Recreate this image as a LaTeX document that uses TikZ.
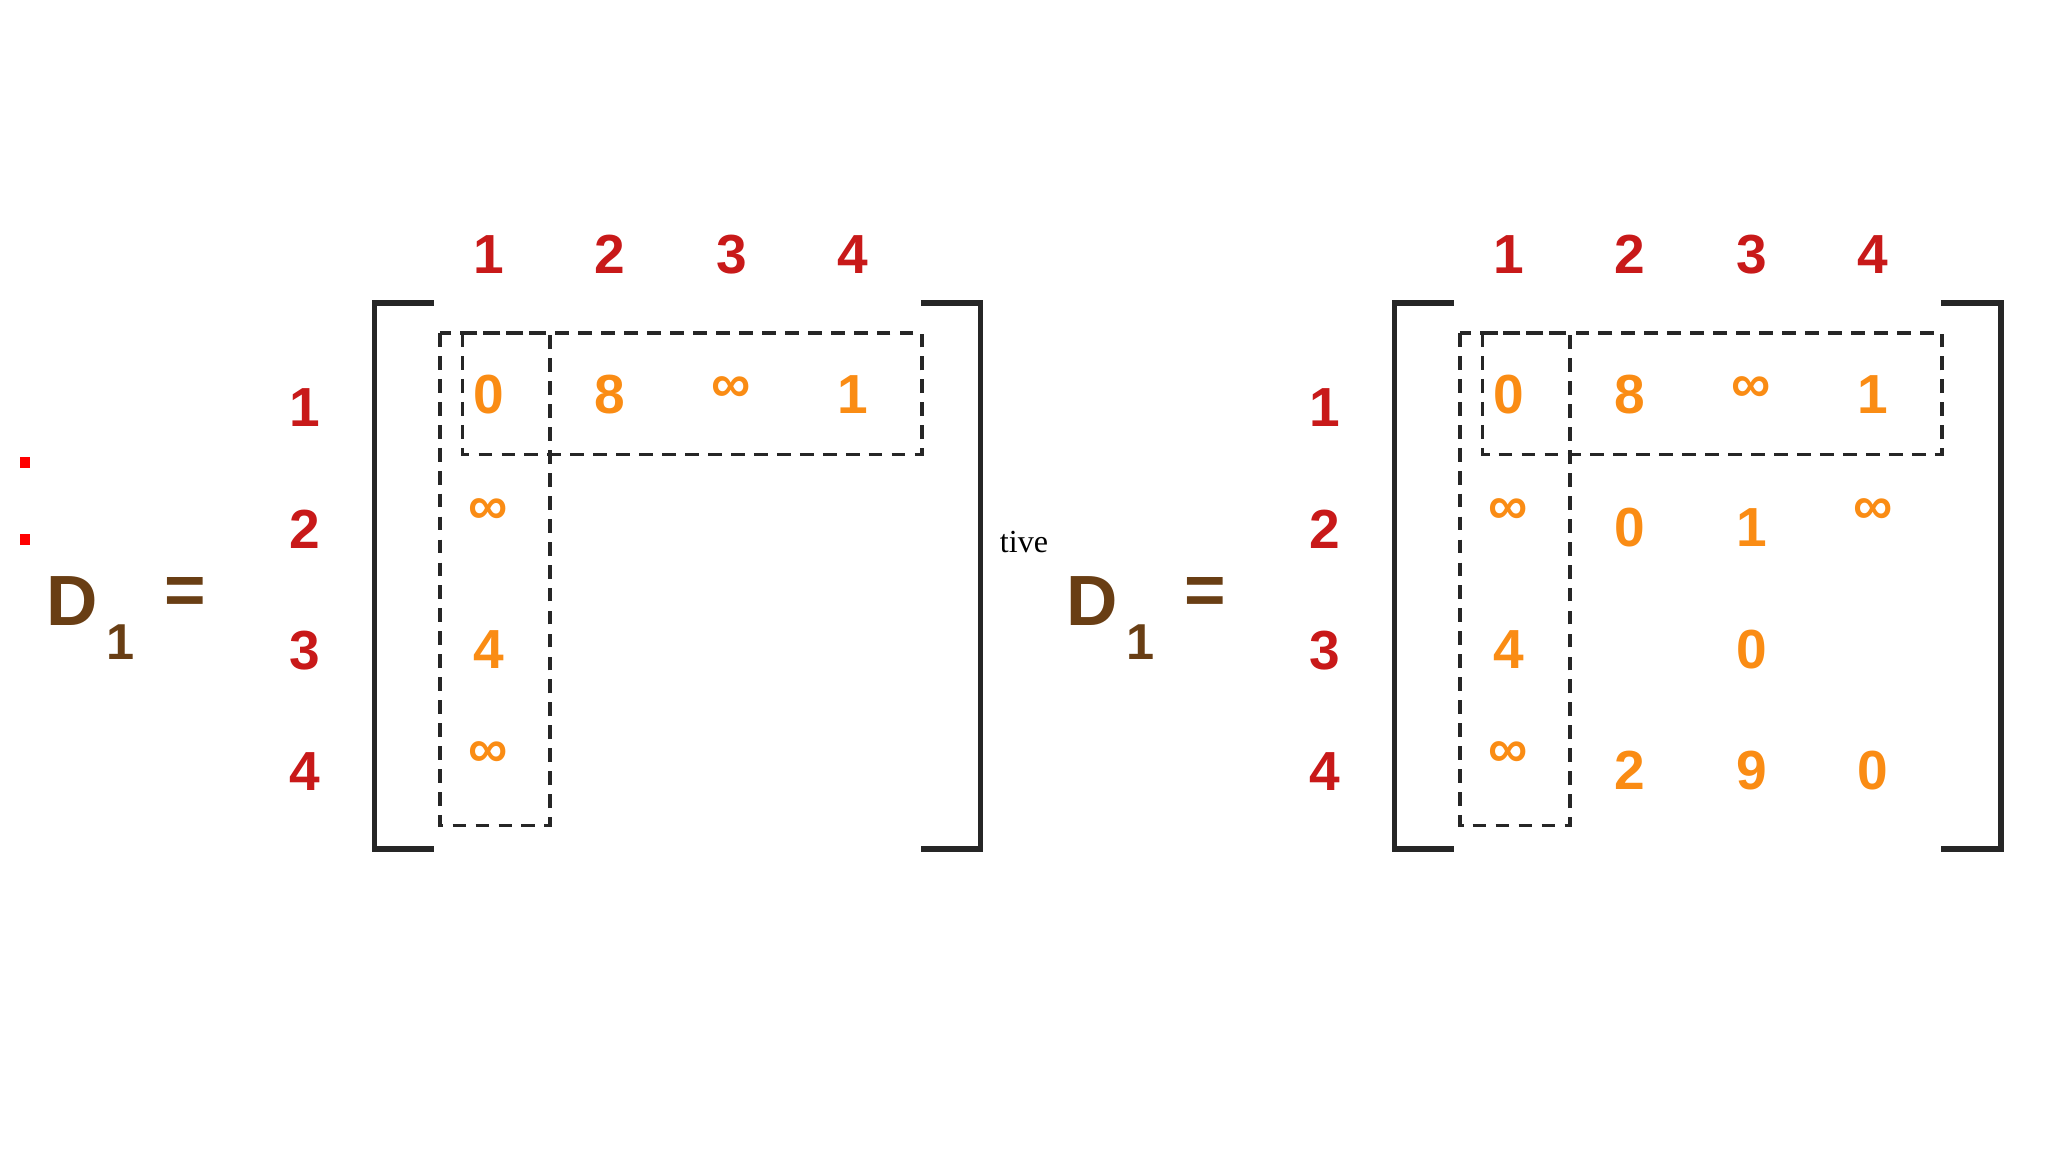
\documentclass[tikz,border=0pt]{standalone}
\usepackage{fontspec}
\setmainfont{Liberation Sans}
\newfontfamily\serifn{Liberation Serif}
\definecolor{hred}{RGB}{200,25,25}
\definecolor{ent}{RGB}{250,140,20}
\definecolor{brn}{RGB}{105,62,20}
\begin{document}
\begin{tikzpicture}[x=0.02cm,y=-0.02cm,
  hd/.style={text=hred,font=\fontsize{24}{24}\selectfont\bfseries},
  en/.style={text=ent,font=\fontsize{24}{24}\selectfont\bfseries},
  dl/.style={text=brn,font=\fontsize{31}{31}\selectfont\bfseries},
  brk/.style={line width=2.2pt,black!85},
  dsh/.style={line width=1.6pt,dashed,dash pattern=on 6pt off 4pt,black!85}]
\useasboundingbox (0,0) rectangle (1568,882);
\fill[red] (15,350) rectangle (23,358);
\fill[red] (15,409) rectangle (23,417);
\node[font=\serifn\fontsize{14}{14}\selectfont] (tv) at (784,415) {tive};
\foreach \o/\n in {0/L,781/R}{
  \begin{scope}[xshift=\o*0.02cm]
  \node[dl] (D\n) at (55,460) {D};
  \node[dl,font=\fontsize{22}{22}\selectfont\bfseries] (s\n) at (92,492) {1};
  \node[dl] (e\n) at (142,456) {=};
  \foreach \i/\x in {1/374,2/467,3/560,4/653} \node[hd] (c\n\i) at (\x,195) {\i};
  \foreach \i/\y in {1/312,2/405,3/498,4/591} \node[hd] (r\n\i) at (233,\y) {\i};
  \draw[brk] (332,232) -- (287,232) -- (287,650) -- (332,650);
  \draw[brk] (705,232) -- (751,232) -- (751,650) -- (705,650);
  \draw[dsh] (354,255) rectangle (706,348);
  \draw[dsh] (337,255) rectangle (421,632);
  \node[en] (a\n11) at (374,302) {0};
  \node[en] (a\n12) at (467,302) {8};
  \node[en] (a\n13) at (560,298) {∞};
  \node[en] (a\n14) at (653,302) {1};
  \node[en] (a\n21) at (374,392) {∞};
  \node[en] (a\n31) at (374,497) {4};
  \node[en] (a\n41) at (374,578) {∞};
  \end{scope}}
\begin{scope}[xshift=781*0.02cm]
  \node[en] (b22) at (467,404) {0};
  \node[en] (b23) at (560,404) {1};
  \node[en] (b24) at (653,392) {∞};
  \node[en] (b33) at (560,497) {0};
  \node[en] (b42) at (467,590) {2};
  \node[en] (b43) at (560,590) {9};
  \node[en] (b44) at (653,590) {0};
\end{scope}
\end{tikzpicture}
\end{document}
